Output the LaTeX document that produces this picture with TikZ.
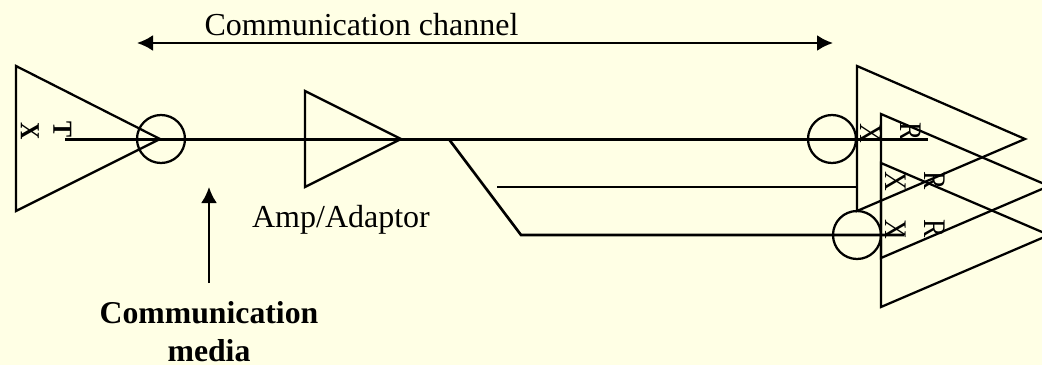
\documentclass[tikz,border=0pt]{standalone}
\usepackage{fontspec}
\usepackage{graphicx}
\setmainfont{Liberation Serif}
\usetikzlibrary{arrows.meta}
\definecolor{bgc}{HTML}{FFFFE5}
\newcommand{\tallglyph}[1]{\scalebox{1}[1.15]{#1}}
\tikzset{
  shape line/.style={draw=black,line width=1.7pt,line join=miter},
  wire/.style={draw=black,line width=2.3pt},
  branch wire/.style={draw=black,line width=2pt},
  mid wire/.style={draw=black,line width=1.6pt},
  dim arrow/.style={draw=black,line width=1.8pt,-{Latex[length=12pt,width=12pt]}},
  dim arrows/.style={draw=black,line width=1.8pt,{Latex[length=12pt,width=12pt]}-{Latex[length=12pt,width=12pt]}},
  lbl/.style={inner sep=0pt,font=\fontsize{24}{24}\selectfont,anchor=base},
  lblb/.style={lbl,font=\fontsize{23.8}{24}\selectfont\bfseries},
  vert/.style={inner sep=0pt,rotate=-90,font=\fontsize{20.5}{21}\selectfont},
  vertb/.style={vert,font=\fontsize{18}{19}\selectfont\bfseries},
  ring/.style={draw=black,line width=1.7pt,circle,minimum size=36pt,inner sep=0pt}
}
\begin{document}
\begin{tikzpicture}[x=0.75pt,y=-0.75pt]
\path[use as bounding box] (0,0) rectangle (1042,364);
\clip (0,0) rectangle (1042,364);
\fill[bgc] (-5,-5) rectangle (1047,369);
% triangles
\draw[shape line] (16,66) -- (16,211) -- (160,139) -- cycle;
\draw[shape line] (305,91) -- (305,187) -- (401,139) -- cycle;
\draw[shape line] (857,66) -- (857,211) -- (1025,139) -- cycle;
\draw[shape line] (881,114) -- (881,258) -- (1049,186) -- cycle;
\draw[shape line] (881,163) -- (881,307) -- (1049,235) -- cycle;
% rings
\node[ring] (c1) at (161,139) {};
\node[ring] (c2) at (832,139) {};
\node[ring] (c3) at (857,235) {};
% rotated letters
\node[vertb] (tx1) at (30,131.5) {\tallglyph{X}};
\node[vertb] (tx2) at (62.5,130) {\tallglyph{T}};
\node[vert] (rx1) at (871,133) {\tallglyph{X}};
\node[vert] (rr1) at (911,132) {\tallglyph{R}};
\node[vert] (rx2) at (896,181.5) {\tallglyph{X}};
\node[vert] (rr2) at (935,181) {\tallglyph{R}};
\node[vert] (rx3) at (896,229) {\tallglyph{X}};
\node[vert] (rr3) at (935,228.5) {\tallglyph{R}};
% wires
\coordinate (w0) at (65,139.3);
\coordinate (w1) at (928,139.3);
\coordinate (b0) at (449,139.3);
\coordinate (b1) at (521,235);
\coordinate (b2) at (904,235);
\coordinate (m0) at (497,186.7);
\coordinate (m1) at (857,186.7);
\draw[wire] (w0) -- (w1);
\draw[branch wire] (b0) -- (b1) -- (b2);
\draw[mid wire] (m0) -- (m1);
% arrows
\coordinate (a0) at (137,43);
\coordinate (a1) at (833,43);
\coordinate (v0) at (209,283);
\coordinate (v1) at (209,187);
\draw[dim arrows] (a0) -- (a1);
\draw[dim arrow] (v0) -- (v1);
% labels
\node[lbl] (chan) at (361.5,36) {Communication channel};
\node[lbl] (amp) at (341,227) {Amp/Adaptor};
\node[lblb] (cm1) at (209,323) {Communication};
\node[lblb] (cm2) at (209,361) {media};
\end{tikzpicture}
\end{document}
